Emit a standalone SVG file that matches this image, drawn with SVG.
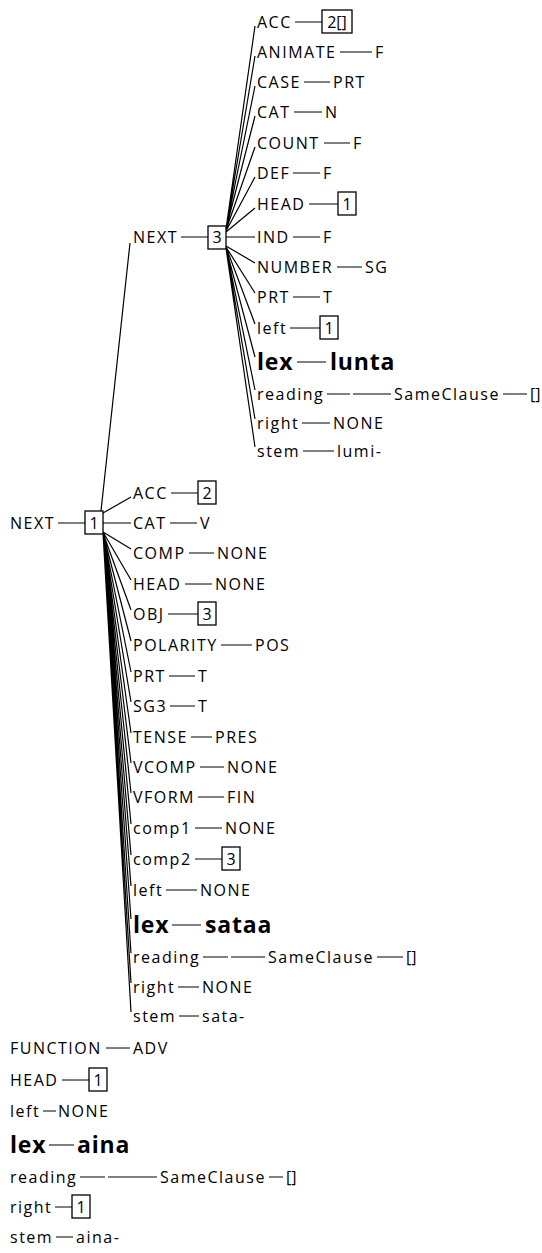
<svg xmlns="http://www.w3.org/2000/svg" width="542" height="1253" viewBox="0 0 542 1253">
<style>
  text { font-family: "Open Sans", "Liberation Sans", sans-serif; fill: #000; }
  .t { font-size: 16px; letter-spacing: 1.5px; }
  .b { font-size: 23px; font-weight: bold; letter-spacing: 0.8px; }
  .n { font-size: 16px; text-anchor: middle; }
  .box { fill: #fff; stroke: #000; stroke-width: 1.3; }
  .e { stroke: #000; stroke-width: 1.2; fill: none; }
  .d { stroke: #000; stroke-width: 1; fill: none; }
</style>
<rect width="542" height="1253" fill="#fff"/>

<!-- tree edges and feature-value dashes -->
<g id="connectors">
  <!-- edges out of box 3 -->
  <path class="e" d="M226,229L255,26M226,229L255,56M226,229L255,86M226,229L255,116M226,230L255,147M226,231L255,177M226,232L255,208M226,237L255,237M226,246L255,263M226,247L255,293M226,247L255,324M226,248L255,357M226,248L255,390M226,248L255,419M226,248L255,447"/>
  <!-- edges out of box 1 -->
  <path class="e" d="M101,511L130,243M103,513L131,497M103,523L131,523M103,532L131,549M103,532L131,580M103,533L131,610M103,533L131,641M103,533L131,672M103,533L131,702M103,533L131,733M103,533L131,763M103,533L131,793M103,533L131,824M103,533L131,855M103,533L131,886M103,533L131,919M103,533L131,953M103,533L131,983M103,533L131,1012"/>
  <!-- dashes, innermost level -->
  <path class="d" d="M295,22H322M340,52H372M304,82H330M294,112H322M324,143H350M293,173H320M309,204H338M293,237H320M337,267H362M293,297H320M290,328H320M297,362H326M327,394H350M353,394H391M503,394H527M302,423H330M303,451H334"/>
  <!-- dashes, middle level -->
  <path class="d" d="M181,237H208M171,493H198M170,523H197M189,553H214M185,584H212M168,614H198M221,645H252M169,676H195M170,706H195M191,737H212M200,767H224M198,797H224M195,828H222M195,859H222M166,890H197M172,925H201M203,957H228M231,957H265M377,957H403M178,987H199M179,1016H199"/>
  <!-- dashes, outer level -->
  <path class="d" d="M58,523H85M106,1048H130M62,1080H89M43,1111H56M49,1145H74M80,1177H105M108,1177H157M269,1177H283M55,1207H72M56,1237H73"/>
</g>

<!-- shared boxes -->
<g id="box-3"><rect class="box" x="208" y="226" width="18" height="23"/><text class="n" x="217" y="243">3</text></g>
<g id="box-1"><rect class="box" x="85" y="511" width="18" height="23"/><text class="n" x="94" y="529">1</text></g>

<!-- features under box 3 -->
<g id="n3-acc"><text class="t" x="257" y="28">ACC</text><rect class="box" x="322" y="10" width="30" height="23"/><text class="n" x="337" y="28">2[]</text></g>
<g id="n3-animate"><text class="t" x="257" y="58">ANIMATE</text><text class="t" x="375" y="58">F</text></g>
<g id="n3-case"><text class="t" x="257" y="88">CASE</text><text class="t" x="333" y="88">PRT</text></g>
<g id="n3-cat"><text class="t" x="257" y="118">CAT</text><text class="t" x="325" y="118">N</text></g>
<g id="n3-count"><text class="t" x="257" y="149">COUNT</text><text class="t" x="353" y="149">F</text></g>
<g id="n3-def"><text class="t" x="257" y="179">DEF</text><text class="t" x="323" y="179">F</text></g>
<g id="n3-head"><text class="t" x="257" y="210">HEAD</text><rect class="box" x="338" y="192" width="18" height="23"/><text class="n" x="347" y="210">1</text></g>
<g id="n3-ind"><text class="t" x="257" y="243">IND</text><text class="t" x="323" y="243">F</text></g>
<g id="n3-number"><text class="t" x="257" y="273">NUMBER</text><text class="t" x="365" y="273">SG</text></g>
<g id="n3-prt"><text class="t" x="257" y="303">PRT</text><text class="t" x="323" y="303">T</text></g>
<g id="n3-left"><text class="t" x="257" y="334">left</text><rect class="box" x="320" y="316" width="18" height="23"/><text class="n" x="329" y="334">1</text></g>
<g id="n3-lex"><text class="b" x="257" y="370">lex</text><text class="b" x="330" y="370">lunta</text></g>
<g id="n3-reading"><text class="t" x="257" y="400">reading</text><text class="t" x="394" y="400">SameClause</text><text x="530" y="400" style="font-size:16px">[]</text></g>
<g id="n3-right"><text class="t" x="257" y="429">right</text><text class="t" x="333" y="429">NONE</text></g>
<g id="n3-stem"><text class="t" x="257" y="457">stem</text><text class="t" x="337" y="457">lumi-</text></g>

<!-- features under box 1 -->
<g id="n1-next"><text class="t" x="133" y="243">NEXT</text></g>
<g id="n1-acc"><text class="t" x="133" y="499">ACC</text><rect class="box" x="198" y="481" width="18" height="23"/><text class="n" x="207" y="499">2</text></g>
<g id="n1-cat"><text class="t" x="133" y="529">CAT</text><text class="t" x="200" y="529">V</text></g>
<g id="n1-comp"><text class="t" x="133" y="559">COMP</text><text class="t" x="217" y="559">NONE</text></g>
<g id="n1-head"><text class="t" x="133" y="590">HEAD</text><text class="t" x="215" y="590">NONE</text></g>
<g id="n1-obj"><text class="t" x="133" y="620">OBJ</text><rect class="box" x="198" y="602" width="18" height="23"/><text class="n" x="207" y="620">3</text></g>
<g id="n1-polarity"><text class="t" x="133" y="651">POLARITY</text><text class="t" x="255" y="651">POS</text></g>
<g id="n1-prt"><text class="t" x="133" y="682">PRT</text><text class="t" x="198" y="682">T</text></g>
<g id="n1-sg3"><text class="t" x="133" y="712">SG3</text><text class="t" x="198" y="712">T</text></g>
<g id="n1-tense"><text class="t" x="133" y="743">TENSE</text><text class="t" x="215" y="743">PRES</text></g>
<g id="n1-vcomp"><text class="t" x="133" y="773">VCOMP</text><text class="t" x="227" y="773">NONE</text></g>
<g id="n1-vform"><text class="t" x="133" y="803">VFORM</text><text class="t" x="227" y="803">FIN</text></g>
<g id="n1-comp1"><text class="t" x="133" y="834">comp1</text><text class="t" x="225" y="834">NONE</text></g>
<g id="n1-comp2"><text class="t" x="133" y="865">comp2</text><rect class="box" x="222" y="847" width="18" height="23"/><text class="n" x="231" y="865">3</text></g>
<g id="n1-left"><text class="t" x="133" y="896">left</text><text class="t" x="200" y="896">NONE</text></g>
<g id="n1-lex"><text class="b" x="133" y="933">lex</text><text class="b" x="205" y="933">sataa</text></g>
<g id="n1-reading"><text class="t" x="133" y="963">reading</text><text class="t" x="268" y="963">SameClause</text><text x="406" y="963" style="font-size:16px">[]</text></g>
<g id="n1-right"><text class="t" x="133" y="993">right</text><text class="t" x="202" y="993">NONE</text></g>
<g id="n1-stem"><text class="t" x="133" y="1022">stem</text><text class="t" x="202" y="1022">sata-</text></g>

<!-- outer features -->
<g id="n0-next"><text class="t" x="10" y="529">NEXT</text></g>
<g id="n0-function"><text class="t" x="10" y="1054">FUNCTION</text><text class="t" x="133" y="1054">ADV</text></g>
<g id="n0-head"><text class="t" x="10" y="1086">HEAD</text><rect class="box" x="89" y="1068" width="18" height="23"/><text class="n" x="98" y="1086">1</text></g>
<g id="n0-left"><text class="t" x="10" y="1117">left</text><text class="t" x="58" y="1117">NONE</text></g>
<g id="n0-lex"><text class="b" x="10" y="1153">lex</text><text class="b" x="77" y="1153">aina</text></g>
<g id="n0-reading"><text class="t" x="10" y="1183">reading</text><text class="t" x="160" y="1183">SameClause</text><text x="286" y="1183" style="font-size:16px">[]</text></g>
<g id="n0-right"><text class="t" x="10" y="1213">right</text><rect class="box" x="72" y="1195" width="18" height="23"/><text class="n" x="81" y="1213">1</text></g>
<g id="n0-stem"><text class="t" x="10" y="1243">stem</text><text class="t" x="76" y="1243">aina-</text></g>
</svg>
